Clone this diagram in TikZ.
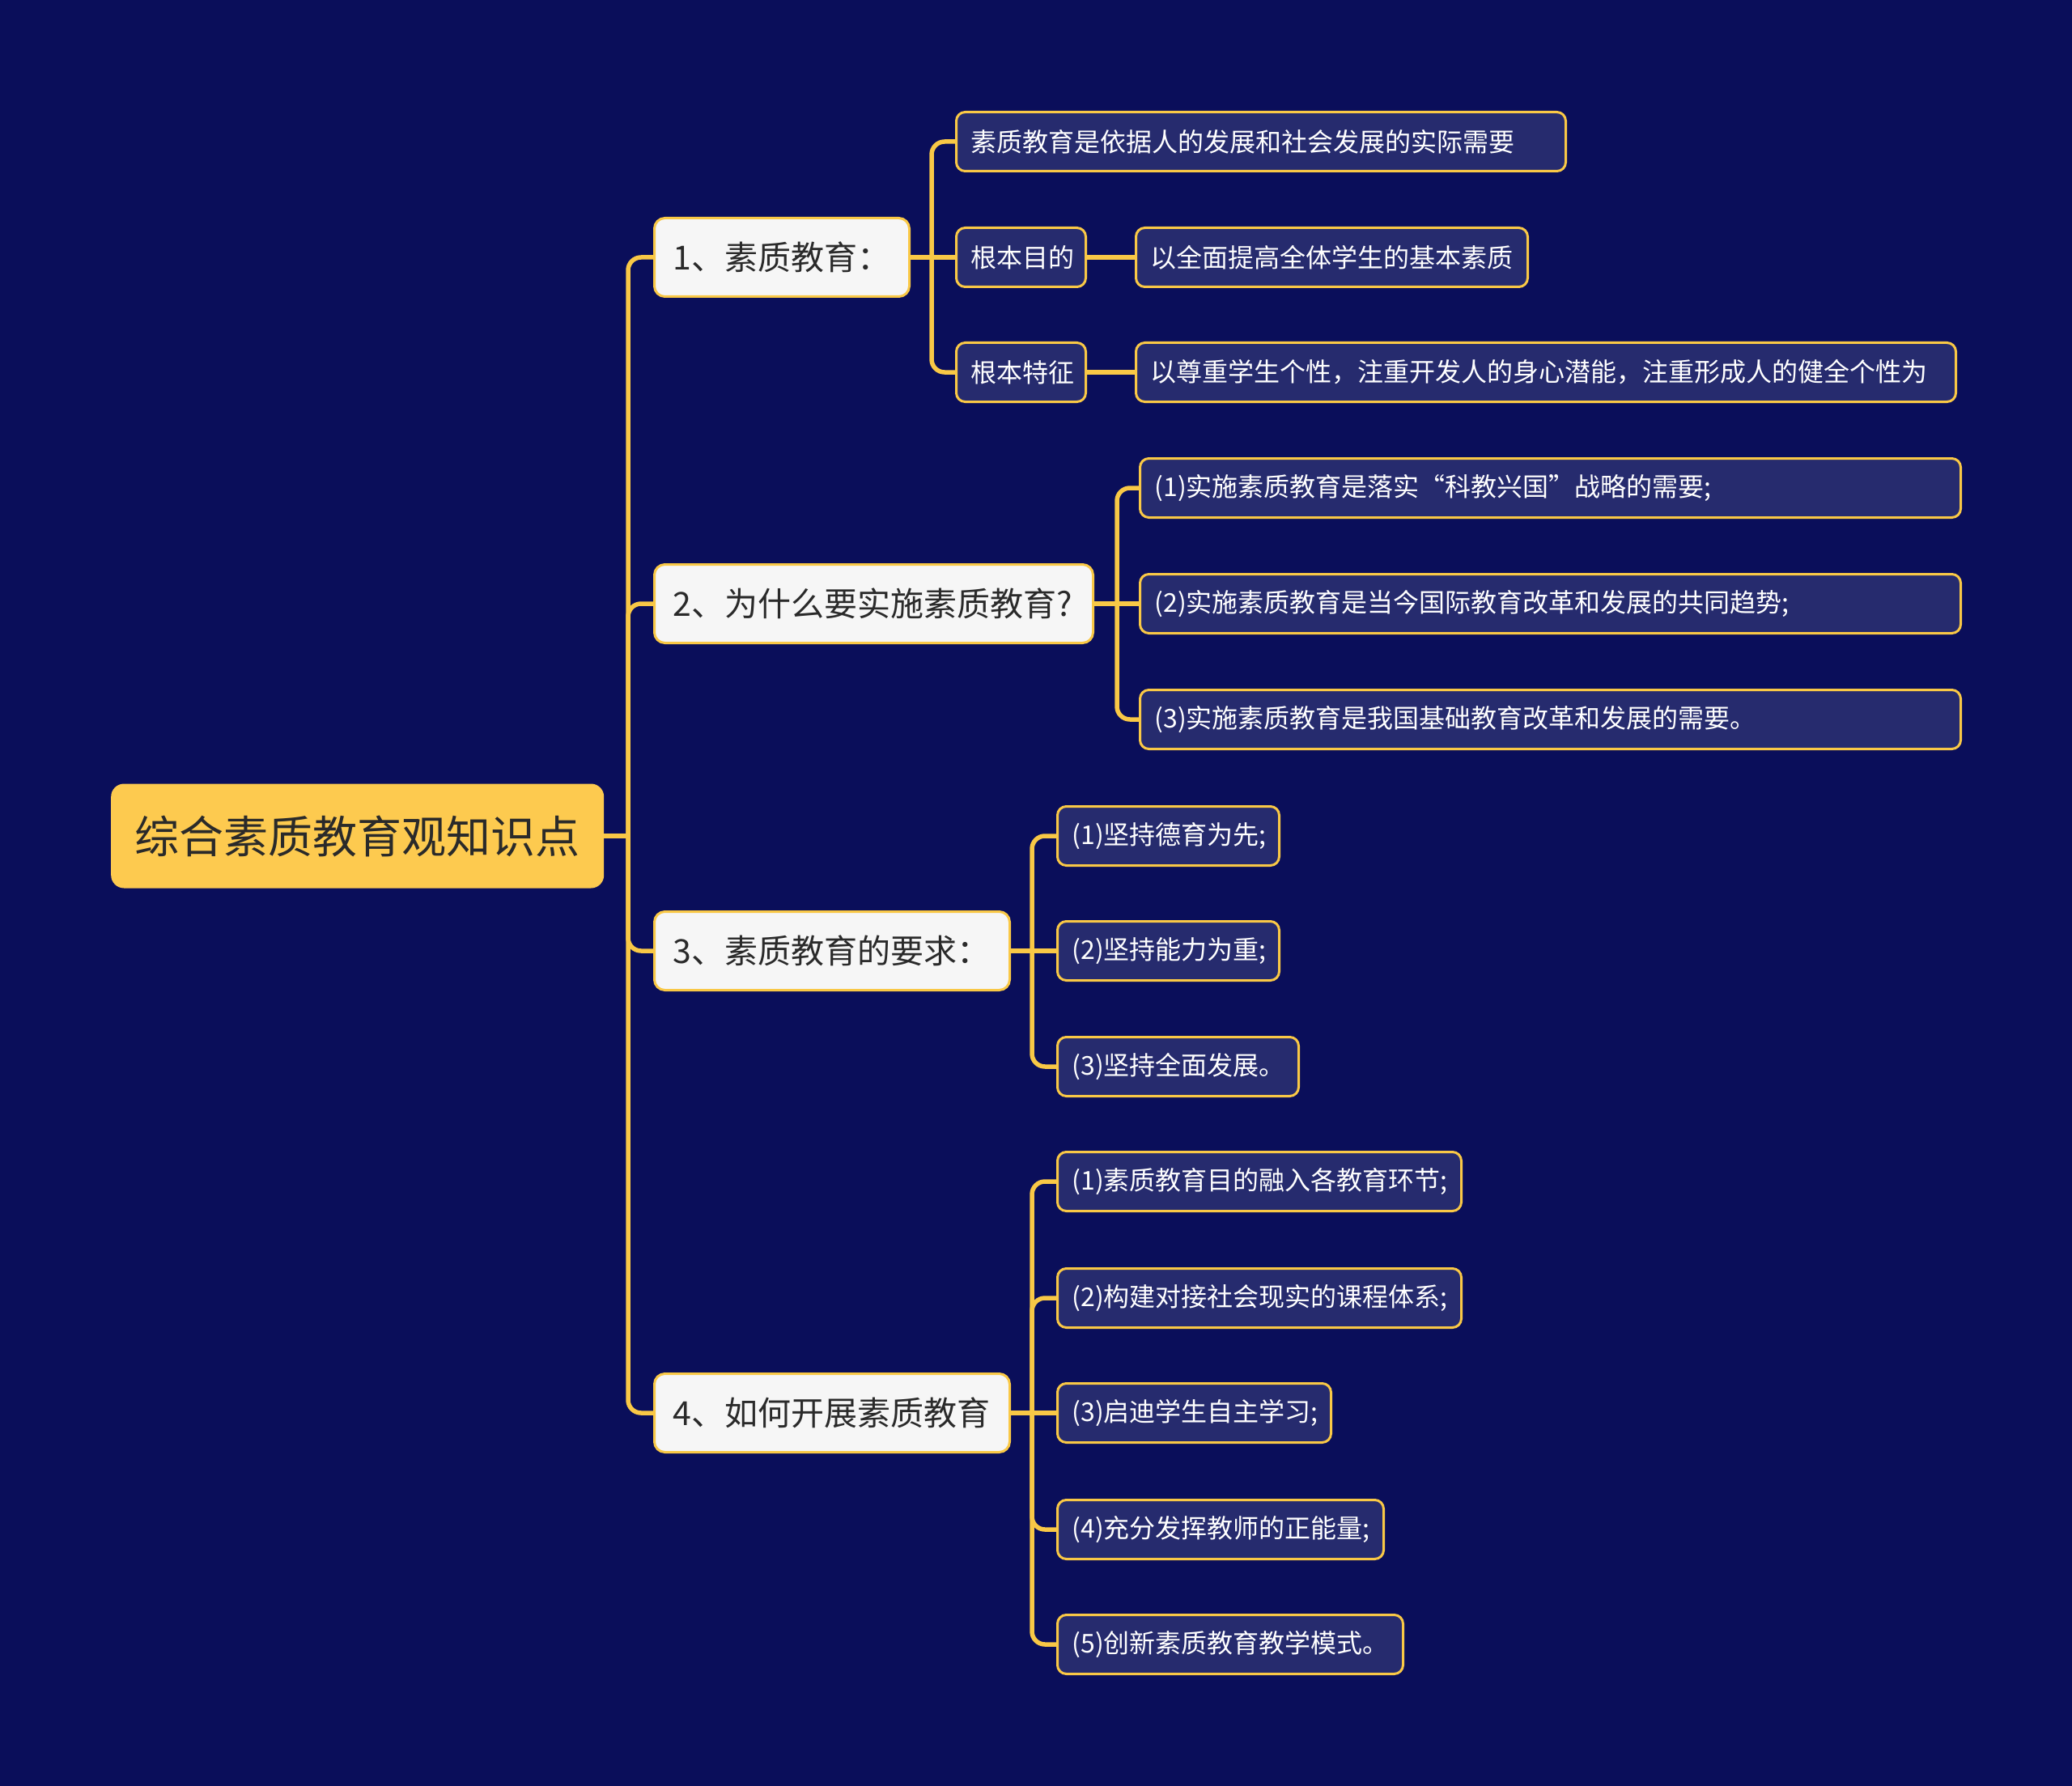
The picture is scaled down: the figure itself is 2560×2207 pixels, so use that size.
\documentclass[tikz,border=0pt]{standalone}
\usepackage{fontspec}
\setmainfont{Noto Sans CJK SC}
\definecolor{bg}{HTML}{0A0E5A}
\definecolor{ylw}{HTML}{F9C846}
\definecolor{rootfill}{HTML}{FDCA4F}
\definecolor{lonefill}{HTML}{F6F6F6}
\definecolor{ltwofill}{HTML}{262B6E}
\definecolor{darktext}{HTML}{2A2A2A}
\begin{document}
\begin{tikzpicture}[x=1pt,y=-1pt,
  rootbox/.style={anchor=west,fill=rootfill,rounded corners=16pt,text=darktext,
    inner xsep=0pt,inner ysep=0pt,minimum height=129pt,minimum width=609pt,
    font=\fontsize{55pt}{66pt}\selectfont},
  lonebox/.style={anchor=west,fill=lonefill,draw=ylw,line width=3pt,rounded corners=13pt,
    text=darktext,inner xsep=23pt,inner ysep=0pt,minimum height=97pt,align=left,
    font=\fontsize{41pt}{49pt}\selectfont},
  ltwobox/.style={anchor=west,fill=ltwofill,draw=ylw,line width=3pt,rounded corners=11pt,
    text=white,inner xsep=18pt,inner ysep=0pt,minimum height=73pt,align=left,
    font=\fontsize{32pt}{38pt}\selectfont},
  conn/.style={draw=ylw,line width=5.5pt,rounded corners=16pt}
]
\fill[bg] (0,0) rectangle (2560,2207);
\useasboundingbox (0,0) rectangle (2560,2207);

% root
\node[rootbox] (root) at (137,1033) {综合素质教育观知识点};

% level 1
\node[lonebox,text width=269pt] (n1) at (807,318) {1、素质教育：};
\node[lonebox,text width=496pt] (n2) at (807,746) {2、为什么要实施素质教育?};
\node[lonebox,text width=393pt] (n3) at (807,1175) {3、素质教育的要求：};
\node[lonebox,text width=393pt] (n4) at (807,1746) {4、如何开展素质教育};

% level 2 under n1
\node[ltwobox,text width=717pt] (a1) at (1180,175) {素质教育是依据人的发展和社会发展的实际需要};
\node[ltwobox,text width=124pt] (a2) at (1180,318) {根本目的};
\node[ltwobox,text width=448pt] (a2b) at (1402,318) {以全面提高全体学生的基本素质};
\node[ltwobox,text width=124pt] (a3) at (1180,460) {根本特征};
\node[ltwobox,text width=977pt] (a3b) at (1402,460) {以尊重学生个性，注重开发人的身心潜能，注重形成人的健全个性为};

% level 2 under n2
\node[ltwobox,text width=978pt] (b1) at (1407,603) {(1)实施素质教育是落实“科教兴国”战略的需要;};
\node[ltwobox,text width=978pt] (b2) at (1407,746) {(2)实施素质教育是当今国际教育改革和发展的共同趋势;};
\node[ltwobox,text width=978pt] (b3) at (1407,889) {(3)实施素质教育是我国基础教育改革和发展的需要。};

% level 2 under n3
\node[ltwobox,text width=238pt] (c1) at (1305,1033) {(1)坚持德育为先;};
\node[ltwobox,text width=238pt] (c2) at (1305,1175) {(2)坚持能力为重;};
\node[ltwobox,text width=262pt] (c3) at (1305,1318) {(3)坚持全面发展。};

% level 2 under n4
\node[ltwobox,text width=463pt] (d1) at (1305,1460) {(1)素质教育目的融入各教育环节;};
\node[ltwobox,text width=463pt] (d2) at (1305,1604) {(2)构建对接社会现实的课程体系;};
\node[ltwobox,text width=302pt] (d3) at (1305,1746) {(3)启迪学生自主学习;};
\node[ltwobox,text width=367pt] (d4) at (1305,1890) {(4)充分发挥教师的正能量;};
\node[ltwobox,text width=391pt] (d5) at (1305,2032) {(5)创新素质教育教学模式。};

% connectors
\begin{scope}[on background layer/.style={}]
\coordinate (t) at (776,1033);
\draw[conn] (root.east) -- (t);
\foreach \n in {n1,n2,n3,n4} \draw[conn] (t) |- (\n.west);

\coordinate (ta) at (1151,318);
\draw[conn] (n1.east) -- (a2.west);
\draw[conn] (ta) |- (a1.west);
\draw[conn] (ta) |- (a3.west);
\draw[conn] (a2.east) -- (a2b.west);
\draw[conn] (a3.east) -- (a3b.west);

\coordinate (tb) at (1380,746);
\draw[conn] (n2.east) -- (b2.west);
\draw[conn] (tb) |- (b1.west);
\draw[conn] (tb) |- (b3.west);

\coordinate (tc) at (1275,1175);
\draw[conn] (n3.east) -- (c2.west);
\draw[conn] (tc) |- (c1.west);
\draw[conn] (tc) |- (c3.west);

\coordinate (td) at (1275,1746);
\draw[conn] (n4.east) -- (d3.west);
\foreach \n in {d1,d2,d4,d5} \draw[conn] (td) |- (\n.west);
\end{scope}
\end{tikzpicture}
\end{document}
